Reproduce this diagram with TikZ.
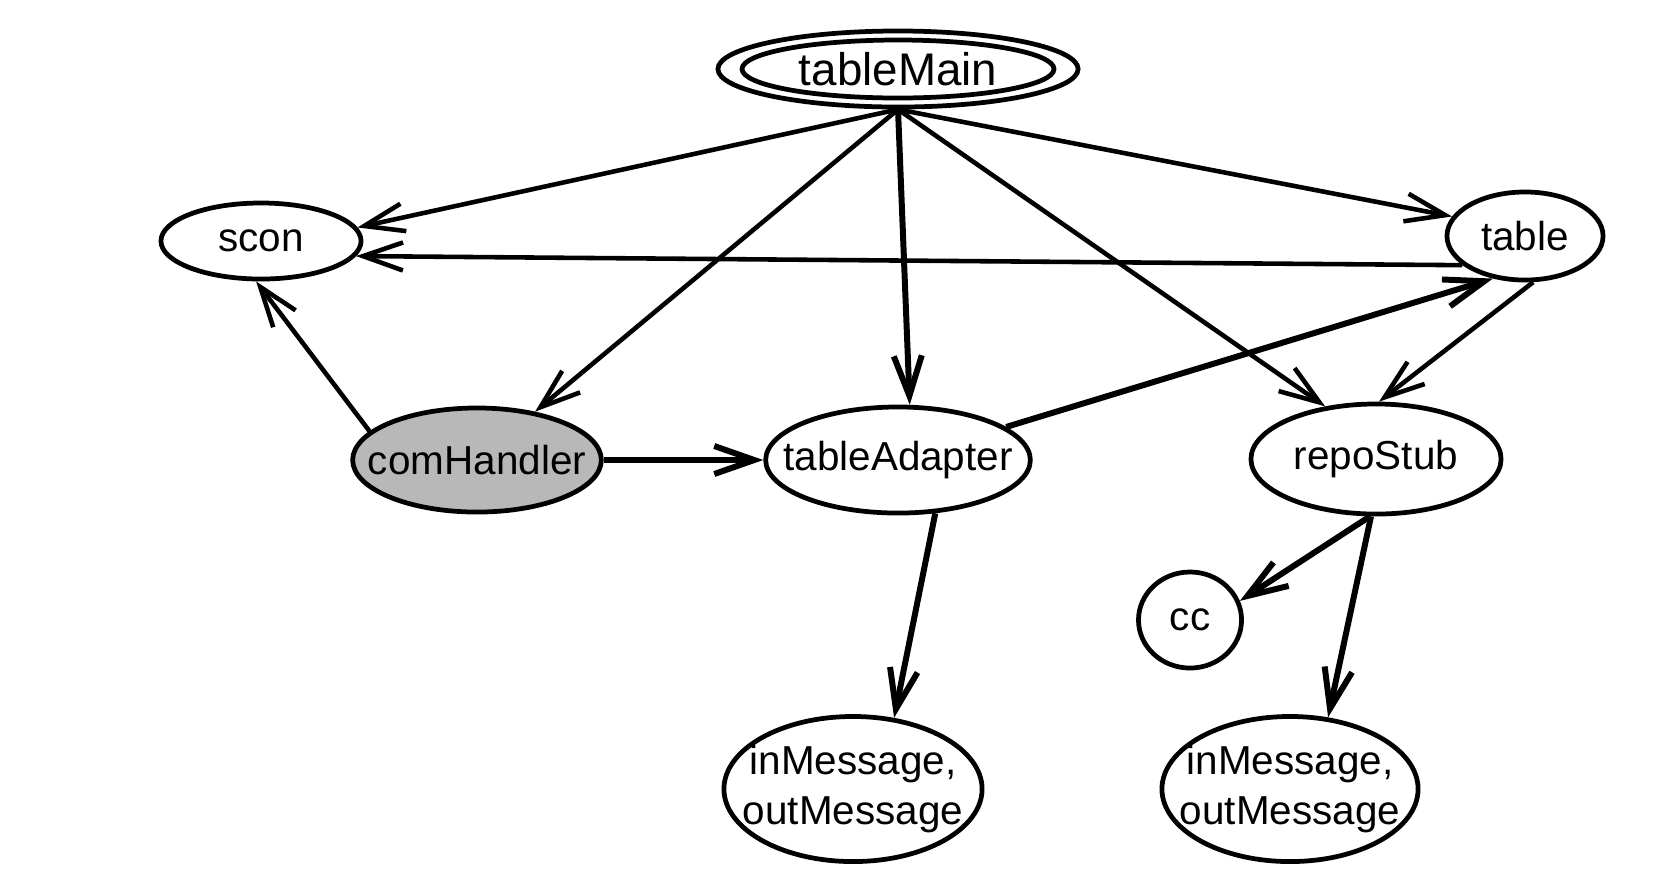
\documentclass[tikz,border=0pt]{standalone}
\usepackage{fontspec}
\setmainfont{Liberation Sans}
\usetikzlibrary{shapes,arrows.meta,positioning}
\definecolor{shade}{RGB}{184,184,184}

\begin{document}
\begin{tikzpicture}[x=0.01cm, y=-0.01cm,
    every node/.style={ellipse, draw, line width=1.35pt, inner xsep=-6pt, inner ysep=0pt,
        font=\fontsize{11.5}{14}\selectfont, align=center},
    link/.style={line width=1.3pt, -{Straight Barb[length=4mm, width=2.8mm]}},
    heavylink/.style={link, line width=1.7pt}]
    \useasboundingbox (0,0) rectangle (1671,893);

    \node[minimum width=3.6cm, minimum height=0.76cm, font=\fontsize{13}{15}\selectfont] (tm) at (898,69) {tableMain};
    \draw[line width=1.35pt] (tm.center) ellipse [x radius=156, y radius=29];
    \node[minimum width=2cm, minimum height=0.76cm] (sc) at (261,241) {scon};
    \node[minimum width=1.56cm, minimum height=0.88cm] (tb) at (1525,236) {table};
    \node[fill=shade, minimum width=2.42cm, minimum height=1.04cm] (ch) at (477,460) {comHandler};
    \node[minimum width=2.63cm, minimum height=1.06cm] (ta) at (898,460) {tableAdapter};
    \node[minimum width=2.5cm, minimum height=1.1cm] (rs) at (1376,459) {repoStub};
    \node[minimum width=1.03cm, minimum height=0.96cm] (cc) at (1190,620) {cc};
    \node[minimum width=2.58cm, minimum height=1.45cm] (im1) at (853,789) {inMessage,\\outMessage};
    \node[minimum width=2.56cm, minimum height=1.45cm] (im2) at (1290,789) {inMessage,\\outMessage};

    \draw[link] (tm.south) -- (sc.8);
    \draw[link] (tm.south) -- (ch);
    \draw[heavylink] (tm.south) -- (ta.78);
    \draw[link] (tm.south) -- (rs.134);
    \draw[link] (tm.south) -- (tb.165);
    \draw[link] (tb.205) -- (sc.-9);
    \draw[link] (ch.165) -- (sc.263);
    \draw[heavylink] (ch) -- (ta);
    \draw[heavylink] (ta.17) -- (tb.233);
    \draw[link] (tb.280) -- (rs.87);
    \draw[heavylink] (ta.305) -- (im1.60);
    \draw[heavylink] (rs.264) -- (cc.21);
    \draw[heavylink] (rs.265) -- (im2.62);
\end{tikzpicture}
\end{document}
